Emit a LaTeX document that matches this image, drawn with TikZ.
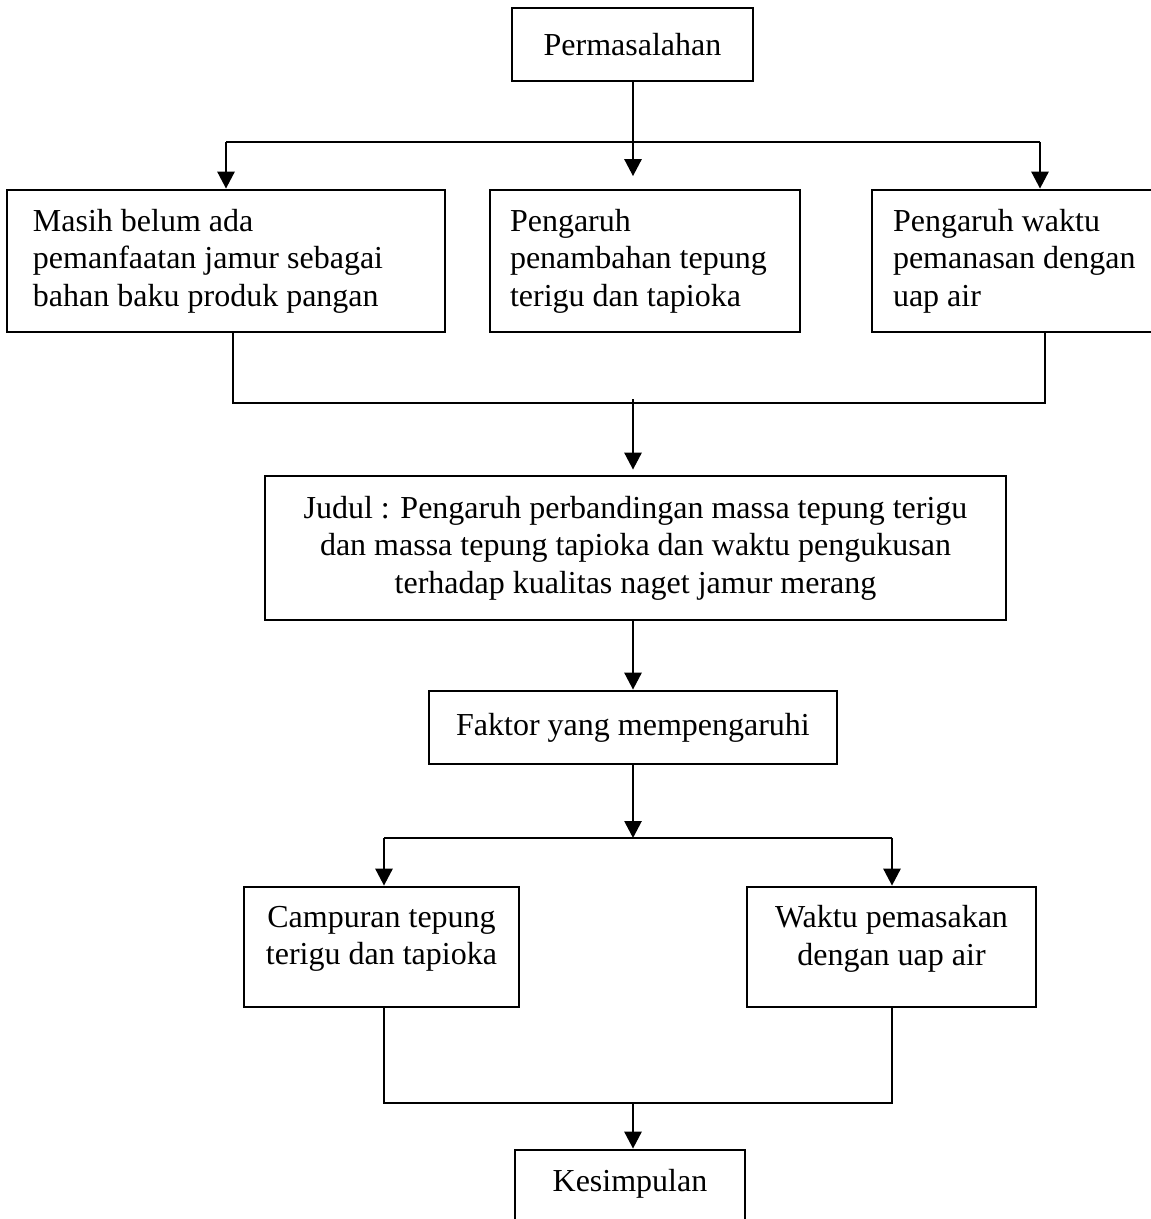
\documentclass[tikz,border=0pt]{standalone}
\usepackage{fontspec}
\setmainfont{Liberation Serif}
\usetikzlibrary{arrows.meta}
\begin{document}
\begin{tikzpicture}[x=0.4pt,y=-0.4pt,
  line width=1.1pt,
  box/.style={draw, rectangle, inner sep=0pt, font=\fontsize{12.8}{15}\selectfont, align=center},
  lbox/.style={box, align=flush left},
  arr/.style={-{Triangle[length=6.8pt,width=6.8pt]}}]
\useasboundingbox (0,0) rectangle (1151,1219);

\node[box, minimum width=96.4pt, minimum height=29.2pt] (perm) at (632.5,44.5) {Permasalahan};

\node[lbox, minimum width=175.2pt, minimum height=56.8pt, text width=154.4pt] (b1) at (226,261)
  {Masih belum ada\\pemanfaatan jamur sebagai\\bahan baku produk pangan};
\node[lbox, minimum width=124pt, minimum height=56.8pt, text width=108pt] (b2) at (645,261)
  {Pengaruh\\penambahan tepung\\terigu dan tapioka};
\node[lbox, minimum width=117.2pt, minimum height=56.8pt, text width=100.4pt] (b3) at (1018.5,261)
  {Pengaruh waktu\\pemanasan dengan\\uap air};

\node[box, minimum width=296.4pt, minimum height=57.6pt] (judul) at (635.5,548)
  {Judul : Pengaruh perbandingan massa tepung terigu\\dan massa tepung tapioka dan waktu pengukusan\\terhadap kualitas naget jamur merang};

\node[box, minimum width=163.2pt, minimum height=29.2pt] (faktor) at (633,727.5) {Faktor yang mempengaruhi};

\node[box, minimum width=110pt, minimum height=48pt] (camp) at (381.5,947)
  {Campuran tepung\\terigu dan tapioka\\[-5.6pt]\mbox{}};
\node[box, minimum width=115.6pt, minimum height=48pt] (waktu) at (891.5,947)
  {Waktu pemasakan\\dengan uap air\\[-5.6pt]\mbox{}};

\node[box, minimum width=92pt, minimum height=39.2pt] (kes) at (630,1199) {Kesimpulan\\\mbox{}};

% top split
\coordinate (s0) at (633,142);
\coordinate (s1) at (226,142);
\coordinate (s3) at (1040,142);
\draw (perm.south -| s0) -- (s0);
\draw (s1) -- (s3);
\draw[arr] (s1) -- (s1 |- b1.north);
\draw[arr, shorten >=5pt] (s0) -- (s0 |- b2.north);
\draw[arr] (s3) -- (s3 |- b3.north);

% merge 1
\coordinate (m1) at (233,403);
\coordinate (m3) at (1045,403);
\coordinate (m0) at (633,399);
\draw (m1 |- b1.south) -- (m1) -- (m3) -- (m3 |- b3.south);
\draw[arr, shorten >=2pt] (m0) -- (m0 |- judul.north);

% judul -> faktor
\draw[arr] (judul.south -| faktor.north) -- (faktor.north);

% split 2
\coordinate (t0) at (633,838);
\coordinate (t1) at (384,838);
\coordinate (t2) at (892,838);
\draw[arr] (faktor.south) -- (t0);
\draw (t1) -- (t2);
\draw[arr] (t1) -- (t1 |- camp.north);
\draw[arr] (t2) -- (t2 |- waktu.north);

% merge 2
\coordinate (u1) at (384,1103);
\coordinate (u2) at (892,1103);
\coordinate (u0) at (633,1103);
\draw (u1 |- camp.south) -- (u1) -- (u2) -- (u2 |- waktu.south);
\draw[arr] (u0) -- (u0 |- kes.north);
\end{tikzpicture}
\end{document}
